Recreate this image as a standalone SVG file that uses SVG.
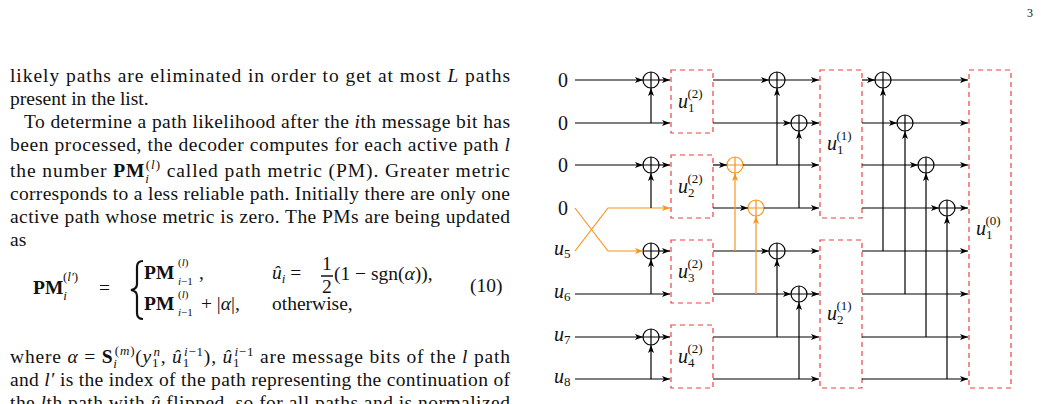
<svg xmlns="http://www.w3.org/2000/svg" width="1041" height="404" viewBox="0 0 1041 404">
<style>
.t{font-family:"Liberation Serif",serif;font-size:19.5px;fill:#111}
.i{font-style:italic}
.b{font-weight:bold}
.s{font-size:13px}
.e{font-size:11px}
.la{stroke:#000;stroke-width:1.2;fill:none;marker-end:url(#a)}
.o{stroke:#f7941d;stroke-width:1.2;fill:none}
.oa{stroke:#f7941d;stroke-width:1.2;fill:none;marker-end:url(#ao)}
.x{stroke:#000;stroke-width:1.2;fill:none}
.xo{stroke:#f7941d;stroke-width:1.2;fill:none}
.bx{stroke:#f04040;stroke-width:1.2;fill:none;stroke-dasharray:5,4}
.d{font-family:"Liberation Serif",serif;font-size:20px;fill:#111}
.ds{font-size:13px;font-style:normal}
</style>
<defs>
<marker id="a" markerWidth="9" markerHeight="7" refX="8" refY="3" orient="auto" markerUnits="userSpaceOnUse"><path d="M0,0 L8,3 L0,6 L2,3z" fill="#000"/></marker>
<marker id="ao" markerWidth="9" markerHeight="7" refX="8" refY="3" orient="auto" markerUnits="userSpaceOnUse"><path d="M0,0 L8,3 L0,6 L2,3z" fill="#f7941d"/></marker>
</defs>
<rect width="1041" height="404" fill="#fff"/>
<text class="t" x="1027" y="17" style="font-size:12px">3</text>

<text class="t" x="10" y="82" textLength="500" lengthAdjust="spacing">likely paths are eliminated in order to get at most <tspan class="i">L</tspan> paths</text>
<text class="t" x="10" y="105">present in the list.</text>
<text class="t" x="24" y="128" textLength="486" lengthAdjust="spacing">To determine a path likelihood after the <tspan class="i">i</tspan>th message bit has</text>
<text class="t" x="10" y="151" textLength="500" lengthAdjust="spacing">been processed, the decoder computes for each active path <tspan class="i">l</tspan></text>
<text class="t" x="10" y="177" textLength="500" lengthAdjust="spacing">the number <tspan class="b">PM</tspan><tspan class="s i" dy="6">i</tspan><tspan class="s" dx="-4" dy="-14">(<tspan class="i">l</tspan>)</tspan><tspan dy="8"> called path metric (PM). Greater metric</tspan></text>
<text class="t" x="10" y="200" textLength="500" lengthAdjust="spacing">corresponds to a less reliable path. Initially there are only one</text>
<text class="t" x="10" y="223" textLength="500" lengthAdjust="spacing">active path whose metric is zero. The PMs are being updated</text>
<text class="t" x="10" y="246">as</text>

<text class="t" x="33" y="294"><tspan class="b">PM</tspan><tspan class="s i" dy="6">i</tspan><tspan class="s" dx="-4" dy="-19">(<tspan class="i">l′</tspan>)</tspan></text>
<text class="t" x="99" y="294">=</text>
<path d="M143,261 q-6,0 -6,6 v17 q0,5 -6,6 q6,1 6,6 v17 q0,6 6,6" fill="none" stroke="#111" stroke-width="2.2"/>
<text class="t" x="144" y="279"><tspan class="b">PM</tspan></text>
<text class="t e i" x="178" y="285">i<tspan font-style="normal">−1</tspan></text>
<text class="t e" x="178" y="266">(<tspan class="i">l</tspan>)</text>
<text class="t" x="199" y="279">,</text>
<text class="t i" x="272" y="279">û<tspan class="s" dy="4">i</tspan><tspan dy="-4" font-style="normal"> =</tspan></text>
<text class="t" x="322" y="270">1</text>
<line x1="321" y1="276" x2="333" y2="276" stroke="#111" stroke-width="1.5"/>
<text class="t" x="322" y="293">2</text>
<text class="t" x="334" y="280">(1 − sgn(<tspan class="i">α</tspan>)),</text>
<text class="t" x="470" y="292">(10)</text>
<text class="t" x="144" y="310"><tspan class="b">PM</tspan></text>
<text class="t e i" x="178" y="316">i<tspan font-style="normal">−1</tspan></text>
<text class="t e" x="178" y="298">(<tspan class="i">l</tspan>)</text>
<text class="t" x="201" y="310">+ |<tspan class="i">α</tspan>|,</text>
<text class="t" x="272" y="310">otherwise,</text>

<text class="t" x="10" y="363" textLength="500" lengthAdjust="spacing">where <tspan class="i">α</tspan> = <tspan class="b">S</tspan><tspan class="s i" dy="5">i</tspan><tspan class="s" dx="-3" dy="-13">(<tspan class="i">m</tspan>)</tspan><tspan dy="8">(<tspan class="i">y</tspan></tspan><tspan class="s" dy="4">1</tspan><tspan class="s i" dx="-6" dy="-11">n</tspan><tspan dy="7">, <tspan class="i">û</tspan></tspan><tspan class="s" dy="4">1</tspan><tspan class="s i" dx="-6" dy="-11">i</tspan><tspan class="s">−1</tspan><tspan dy="7">), <tspan class="i">û</tspan></tspan><tspan class="s" dy="4">1</tspan><tspan class="s i" dx="-6" dy="-11">i</tspan><tspan class="s">−1</tspan><tspan dy="7"> are message bits of the <tspan class="i">l</tspan> path</tspan></text>
<text class="t" x="10" y="386" textLength="500" lengthAdjust="spacing">and <tspan class="i">l′</tspan> is the index of the path representing the continuation of</text>
<text class="t" x="10" y="409" textLength="500" lengthAdjust="spacing">the <tspan class="i">l</tspan>th path with <tspan class="i">û</tspan> flipped, so for all paths and is normalized</text>

<g id="labels">
<text class="d" x="558" y="87">0</text>
<text class="d" x="558" y="130">0</text>
<text class="d" x="558" y="172">0</text>
<text class="d" x="558" y="215">0</text>
<text class="d" x="554" y="255" font-style="italic">u<tspan class="ds" dy="3">5</tspan></text>
<text class="d" x="554" y="298" font-style="italic">u<tspan class="ds" dy="3">6</tspan></text>
<text class="d" x="554" y="341" font-style="italic">u<tspan class="ds" dy="3">7</tspan></text>
<text class="d" x="554" y="383" font-style="italic">u<tspan class="ds" dy="3">8</tspan></text>
</g>

<g id="box-u1-2"><rect class="bx" x="671" y="70" width="42" height="63"/><text class="d" x="678" y="108" font-style="italic">u<tspan class="ds" dy="4">1</tspan><tspan class="ds" dx="-7" dy="-14">(2)</tspan></text></g>
<g id="box-u2-2"><rect class="bx" x="671" y="155" width="42" height="63"/><text class="d" x="678" y="193" font-style="italic">u<tspan class="ds" dy="4">2</tspan><tspan class="ds" dx="-7" dy="-14">(2)</tspan></text></g>
<g id="box-u3-2"><rect class="bx" x="671" y="240" width="42" height="63"/><text class="d" x="678" y="278" font-style="italic">u<tspan class="ds" dy="4">3</tspan><tspan class="ds" dx="-7" dy="-14">(2)</tspan></text></g>
<g id="box-u4-2"><rect class="bx" x="671" y="325" width="42" height="63"/><text class="d" x="678" y="363" font-style="italic">u<tspan class="ds" dy="4">4</tspan><tspan class="ds" dx="-7" dy="-14">(2)</tspan></text></g>
<g id="box-u1-1"><rect class="bx" x="820" y="70" width="42" height="148"/><text class="d" x="827" y="150" font-style="italic">u<tspan class="ds" dy="4">1</tspan><tspan class="ds" dx="-7" dy="-14">(1)</tspan></text></g>
<g id="box-u2-1"><rect class="bx" x="820" y="240" width="42" height="148"/><text class="d" x="827" y="320" font-style="italic">u<tspan class="ds" dy="4">2</tspan><tspan class="ds" dx="-7" dy="-14">(1)</tspan></text></g>
<g id="box-u1-0"><rect class="bx" x="969" y="70" width="42" height="318"/><text class="d" x="976" y="235" font-style="italic">u<tspan class="ds" dy="4">1</tspan><tspan class="ds" dx="-7" dy="-14">(0)</tspan></text></g>

<g id="xors">
<g class="x">
<circle cx="651" cy="80" r="8"/><path d="M643,80h16M651,72v16"/>
<circle cx="651" cy="165" r="8"/><path d="M643,165h16M651,157v16"/>
<circle cx="651" cy="251" r="8"/><path d="M643,251h16M651,243v16"/>
<circle cx="651" cy="337" r="8"/><path d="M643,337h16M651,329v16"/>
<circle cx="777" cy="80" r="8"/><path d="M769,80h16M777,72v16"/>
<circle cx="799" cy="123" r="8"/><path d="M791,123h16M799,115v16"/>
<circle cx="777" cy="251" r="8"/><path d="M769,251h16M777,243v16"/>
<circle cx="799" cy="294" r="8"/><path d="M791,294h16M799,286v16"/>
<circle cx="883" cy="80" r="8"/><path d="M875,80h16M883,72v16"/>
<circle cx="905" cy="123" r="8"/><path d="M897,123h16M905,115v16"/>
<circle cx="926" cy="165" r="8"/><path d="M918,165h16M926,157v16"/>
<circle cx="947" cy="208" r="8"/><path d="M939,208h16M947,200v16"/>
</g>
<g class="xo">
<circle cx="735" cy="165" r="8"/><path d="M727,165h16M735,157v16"/>
<circle cx="756" cy="208" r="8"/><path d="M748,208h16M756,200v16"/>
</g>
</g>

<g id="connectors">
<path class="la" d="M575,80H643"/><path class="la" d="M659,80H670"/>
<path class="la" d="M575,123H670"/><path class="la" d="M651,123V88"/>
<path class="la" d="M575,165H643"/><path class="la" d="M659,165H670"/>
<path class="o" d="M575,208L608,251"/><path class="oa" d="M575,251L608,208H670"/>
<path class="oa" d="M608,251H643"/>
<path class="la" d="M651,208V173"/>
<path class="la" d="M659,251H670"/>
<path class="la" d="M575,294H670"/><path class="la" d="M651,294V259"/>
<path class="la" d="M575,337H643"/><path class="la" d="M659,337H670"/>
<path class="la" d="M575,379H670"/><path class="la" d="M651,379V345"/>
<path class="la" d="M713,80H769"/><path class="la" d="M785,80H819"/>
<path class="la" d="M713,123H791"/><path class="la" d="M807,123H819"/>
<path class="la" d="M713,165H727"/><path class="la" d="M743,165H819"/>
<path class="la" d="M713,208H748"/><path class="la" d="M764,208H819"/>
<path class="la" d="M713,251H769"/><path class="la" d="M785,251H819"/>
<path class="la" d="M713,294H791"/><path class="la" d="M807,294H819"/>
<path class="la" d="M713,337H819"/>
<path class="la" d="M713,379H819"/>
<path class="la" d="M777,165V88"/><path class="la" d="M799,208V131"/>
<path class="la" d="M777,337V259"/><path class="la" d="M799,379V302"/>
<path class="oa" d="M735,251V173"/><path class="oa" d="M756,294V216"/>
<path class="la" d="M862,80H875"/><path class="la" d="M891,80H968"/>
<path class="la" d="M862,123H897"/><path class="la" d="M913,123H968"/>
<path class="la" d="M862,165H918"/><path class="la" d="M934,165H968"/>
<path class="la" d="M862,208H939"/><path class="la" d="M955,208H968"/>
<path class="la" d="M862,251H968"/><path class="la" d="M862,294H968"/>
<path class="la" d="M862,337H968"/><path class="la" d="M862,379H968"/>
<path class="la" d="M883,251V88"/><path class="la" d="M905,294V131"/>
<path class="la" d="M926,337V173"/><path class="la" d="M947,379V216"/>
</g>
</svg>
